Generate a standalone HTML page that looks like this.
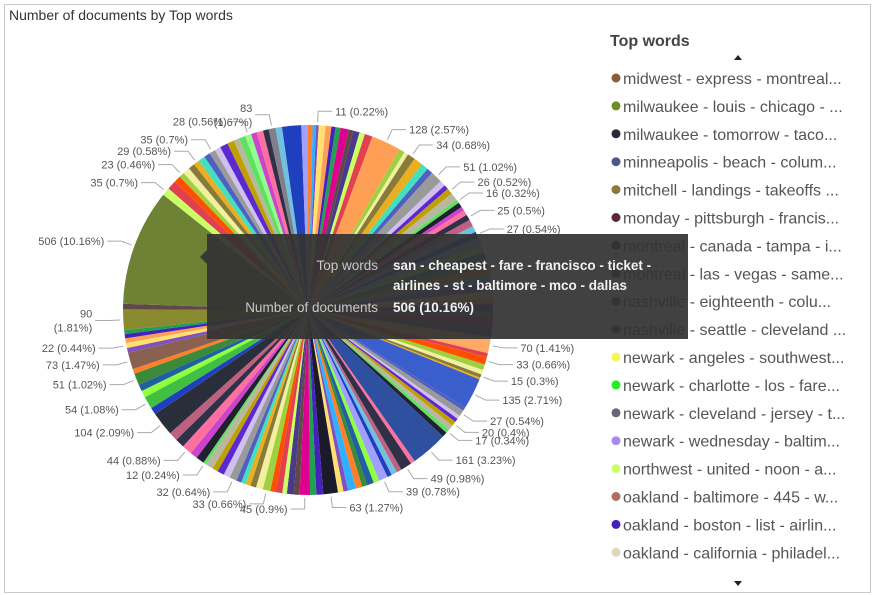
<!DOCTYPE html>
<html><head><meta charset="utf-8"><style>
body{margin:0;background:#fff;width:875px;height:595px;overflow:hidden;font-family:"Liberation Sans",sans-serif}
svg{display:block}
</style></head><body>
<svg id="chart" width="875" height="595" xmlns="http://www.w3.org/2000/svg">
<rect x="4.5" y="4.5" width="866" height="588" fill="#fff" stroke="#c8c8c8"/>
<text x="9" y="20" font-size="14" fill="#333">Number of documents by Top words</text>
<g id="slices"></g>
<g id="labels"></g>
<g>
<text x="610" y="46" font-size="16" font-weight="bold" fill="#444">Top words</text>
<path d="M734,60 L742,60 L738,55 Z" fill="#222"/>
<path d="M734,581 L742,581 L738,586 Z" fill="#222"/>
<g id="legend"></g>
</g>
<g>
<path d="M207,250 L200,257 L207,264 Z" fill="#333" fill-opacity="0.93"/>
<rect x="207" y="234" width="481" height="105" fill="#333" fill-opacity="0.93"/>
<text x="378" y="270" font-size="13.5" fill="#c8c8c8" text-anchor="end">Top words</text>
<text x="393" y="270" font-size="13.5" font-weight="bold" fill="#f0f0f0">san - cheapest - fare - francisco - ticket -</text>
<text x="393" y="290" font-size="13.5" font-weight="bold" fill="#f0f0f0">airlines - st - baltimore - mco - dallas</text>
<text x="378" y="312" font-size="13.5" fill="#c8c8c8" text-anchor="end">Number of documents</text>
<text x="393" y="312" font-size="13.5" font-weight="bold" fill="#f0f0f0">506 (10.16%)</text>
</g>
</svg>
<script>
const values=[20,15,11,30,25,18,22,35,20,28,24,34,128,25,18,34,40,30,26,51,25,20,26,34,16,22,18,22,25,30,27,27,
38,30,25,40,35,28,42,30,26,32,25,28,30,27,70,17,33,25,20,15,8,135,16,27,16,16,20,23,17,22,161,19,49,22,25,20,39,
25,30,22,28,35,20,24,63,30,27,45,25,30,20,28,24,33,30,25,22,20,22,32,28,30,25,34,12,36,32,44,40,39,104,31,54,30,29,51,
21,73,21,22,20,18,17,90,24,506,35,40,30,23,30,28,26,29,27,26,26,35,30,25,28,26,25,28,25,30,28,83,29];
const labels={2:"11 (0.22%)",12:"128 (2.57%)",15:"34 (0.68%)",19:"51 (1.02%)",22:"26 (0.52%)",24:"16 (0.32%)",28:"25 (0.5%)",31:"27 (0.54%)",
46:"70 (1.41%)",48:"33 (0.66%)",51:"15 (0.3%)",53:"135 (2.71%)",55:"27 (0.54%)",58:"20 (0.4%)",60:"17 (0.34%)",62:"161 (3.23%)",64:"49 (0.98%)",68:"39 (0.78%)",
76:"63 (1.27%)",79:"45 (0.9%)",85:"33 (0.66%)",91:"32 (0.64%)",96:"12 (0.24%)",99:"44 (0.88%)",102:"104 (2.09%)",104:"54 (1.08%)",107:"51 (1.02%)",109:"73 (1.47%)",111:"22 (0.44%)",115:"90|(1.81%)",
117:"506 (10.16%)",118:"35 (0.7%)",121:"23 (0.46%)",124:"29 (0.58%)",127:"35 (0.7%)",133:"28 (0.56%)",137:"83|(1.67%)"};
const palette=["#ff7f2a","#1f3fbf","#cc44cc","#5a2ad0","#e8b020","#e04050","#20a050","#30b0ff","#a0a0ff","#ff70a0","#c0a000","#40e0c0","#ff5000","#e00090","#8050c0","#90ff40","#303048","#b8b8a0","#5060c0","#a0d040","#604848","#ffe070","#2060a0","#c06080","#60e060","#9a9a9a","#f0f0a0","#4a3a8a","#ff9f55","#3a8a3a","#70c0e0","#202030","#d0c0f0","#8a7a3a","#ccff66","#4422bb"];
const special={12:"#ff9f55",53:"#3a5fcd",62:"#2f4f9f",102:"#2a2d3a",117:"#6e8236",137:"#80808c",76:"#1a1a2a",109:"#8a6050",115:"#8a8a30",46:"#ffaa66",104:"#40c040",133:"#90ff90"};
const legendNames=["midwest - express - montreal...","milwaukee - louis - chicago - ...","milwaukee - tomorrow - taco...","minneapolis - beach - colum...","mitchell - landings - takeoffs ...","monday - pittsburgh - francis...","montreal - canada - tampa - i...","montreal - las - vegas - same...","nashville - eighteenth - colu...","nashville - seattle - cleveland ...","newark - angeles - southwest...","newark - charlotte - los - fare...","newark - cleveland - jersey - t...","newark - wednesday - baltim...","northwest - united - noon - a...","oakland - baltimore - 445 - w...","oakland - boston - list - airlin...","oakland - california - philadel..."];
const legendColors=["#8b5a3c","#6b8e23","#2a2a3a","#4a5a8a","#8b7a3a","#5a2a35","#333333","#3a3a3a","#3a3a4a","#444444","#f5f55a","#22ee22","#666677","#aa88ee","#ccff66","#b07060","#4422bb","#ddd8bb"];

const NS="http://www.w3.org/2000/svg";
const cx=308,cy=310,R=185;
const total=values.reduce((a,b)=>a+b,0);
function ang(v){return v/total*2*Math.PI;}
function pt(a,r){return [cx+r*Math.sin(a),cy-r*Math.cos(a)];}
const gS=document.getElementById('slices'),gL=document.getElementById('labels');
let cum=0;
values.forEach((v,i)=>{
  const a0=ang(cum),a1=ang(cum+v);cum+=v;
  const p0=pt(a0,R),p1=pt(a1,R);
  const p=document.createElementNS(NS,'path');
  p.setAttribute('d',`M${cx},${cy}L${p0[0]},${p0[1]}A${R},${R} 0 ${a1-a0>Math.PI?1:0} 1 ${p1[0]},${p1[1]}Z`);
  p.setAttribute('fill',special[i]||palette[(i*7)%palette.length]);
  
  
  gS.appendChild(p);
  if(labels[i]){
    const am=(a0+a1)/2;const e=pt(am,R+3),m=pt(am,R+14);
    const right=Math.sin(am)>=0;const ex=m[0]+(right?14:-14);
    const l=document.createElementNS(NS,'polyline');
    l.setAttribute('points',`${e[0]},${e[1]} ${m[0]},${m[1]} ${ex},${m[1]}`);
    l.setAttribute('fill','none');l.setAttribute('stroke','#aaa');l.setAttribute('stroke-width','1');
    
    
    gL.appendChild(l);
    const parts=labels[i].split('|');
    parts.forEach((s,k)=>{
      const t=document.createElementNS(NS,'text');
      t.setAttribute('x',ex+(right?3:-3));
      t.setAttribute('y',m[1]+4+(k-(parts.length-1)/2)*14);
      t.setAttribute('font-size','11');t.setAttribute('fill','#555');
      t.setAttribute('text-anchor',right?'start':'end');
      t.textContent=s;
      
      
      gL.appendChild(t);
    });
  }
});
const gLeg=document.getElementById('legend');
legendNames.forEach((n,i)=>{
  const y=78+i*27.9;
  const c=document.createElementNS(NS,'circle');
  c.setAttribute('cx',616);c.setAttribute('cy',y);c.setAttribute('r',4.5);c.setAttribute('fill',legendColors[i]);
  
  
  gLeg.appendChild(c);
  const t=document.createElementNS(NS,'text');
  t.setAttribute('x',623);t.setAttribute('y',y+6);t.setAttribute('font-size','16');t.setAttribute('fill','#555');
  t.textContent=n;
  
  
  gLeg.appendChild(t);
});
</script>
</body></html>
